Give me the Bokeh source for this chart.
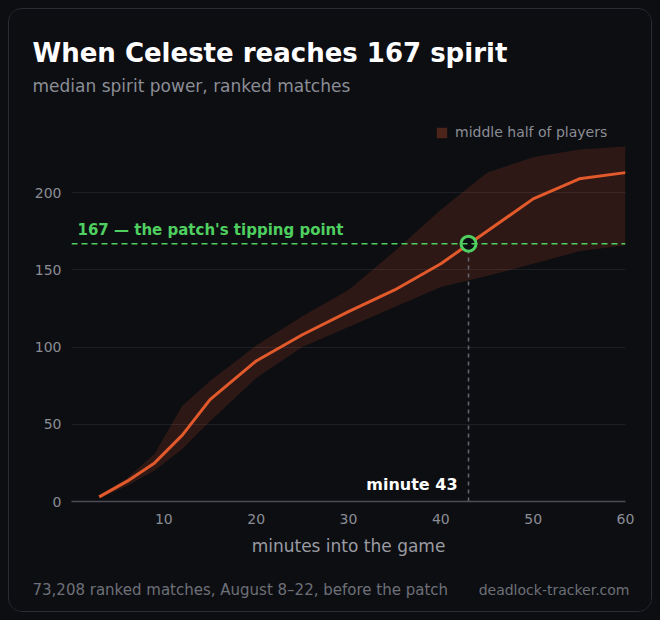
from bokeh.plotting import figure
from bokeh.models import Label, Span, Legend, LegendItem, FixedTicker
from bokeh.embed import file_html
from bokeh.resources import INLINE

# median spirit power by minute, plus the 25th-75th percentile band
minutes = [3, 6, 9, 12, 15, 20, 25, 30, 35, 40, 45, 50, 55, 60]
median = [3, 13, 25, 43, 66, 91, 108, 123, 137, 154, 175, 196, 209, 213]
q_low = [2, 10, 20, 34, 52, 80, 100, 113, 126, 139, 146, 154, 162, 166]
q_high = [4, 15, 31, 62, 78, 101, 120, 137, 162, 189, 213, 223, 228, 230]

threshold = 167
cross_minute = [43]
cross_value = [167]
cross_base = [0]

x_ticks = [10, 20, 30, 40, 50, 60]
y_ticks = [0, 50, 100, 150, 200]

BG = "#0d0e12"
ORANGE = "#e2592b"
GREEN = "#4fcf5f"
MUTED = "#8b8d95"
FOOT = "#6e7078"
FONT = "DejaVu Sans"

p = figure(width=644, height=604, x_range=(0, 60), y_range=(0, 250),
           output_backend="svg", toolbar_location=None,
           min_border_left=62, min_border_right=28,
           min_border_top=106, min_border_bottom=112)
p.background_fill_color = BG
p.border_fill_color = BG
p.outline_line_color = None
p.styles = {"border": "1px solid #2b2d34", "border-radius": "14px", "overflow": "hidden"}

# band + median
band = p.varea(x=minutes, y1=q_low, y2=q_high, fill_color=ORANGE, fill_alpha=0.15)
p.line(minutes, median, line_color=ORANGE, line_width=3)

# threshold line and crossing
p.add_layout(Span(location=threshold, dimension="width", line_color=GREEN,
                  line_width=1.5, line_dash="6 4"))
p.segment(x0=cross_minute, y0=cross_base, x1=cross_minute, y1=cross_value,
          line_color="#65676f", line_width=1.5, line_dash="4 4")
p.scatter(cross_minute, cross_value, size=15, fill_color=BG,
          line_color=GREEN, line_width=3)

p.add_layout(Label(x=0, y=threshold, x_offset=6, y_offset=14,
                   text="167 \u2014 the patch's tipping point",
                   text_font=FONT, text_font_size="15px", text_font_style="bold",
                   text_color=GREEN, text_baseline="middle"))
p.add_layout(Label(x=cross_minute[0], y=0, x_offset=-11, y_offset=17,
                   text="minute 43", text_font=FONT, text_font_size="16px",
                   text_font_style="bold", text_color="#ffffff",
                   text_align="right", text_baseline="middle"))

# legend swatch: a hidden copy of the band, drawn stronger
swatch = p.varea(x=minutes, y1=q_low, y2=q_high, fill_color=ORANGE,
                 fill_alpha=0.3, visible=False)
legend = Legend(items=[LegendItem(label="middle half of players", renderers=[swatch])],
                location=(364, 361), padding=0, margin=0, spacing=0,
                glyph_width=13, glyph_height=13, label_standoff=7,
                background_fill_alpha=0, border_line_color=None,
                inactive_fill_alpha=0,
                label_text_font=FONT, label_text_font_size="14px",
                label_text_color=MUTED)
p.add_layout(legend)

# axes
p.xaxis.ticker = FixedTicker(ticks=x_ticks)
p.yaxis.ticker = FixedTicker(ticks=y_ticks)
p.xgrid.grid_line_color = None
p.ygrid.grid_line_color = "#1e1f25"
p.ygrid.grid_line_width = 1

p.yaxis.axis_line_color = None
p.yaxis.major_tick_line_color = None
p.yaxis.minor_tick_line_color = None
p.yaxis.major_tick_out = 0
p.yaxis.major_label_standoff = 10

p.xaxis.axis_line_color = "#4b4c56"
p.xaxis.axis_line_width = 1.5
p.xaxis.major_tick_line_color = None
p.xaxis.minor_tick_line_color = None
p.xaxis.major_tick_out = 0
p.xaxis.major_label_standoff = 12
p.xaxis.axis_label = "minutes into the game"
p.xaxis.axis_label_standoff = 9
p.xaxis.axis_label_text_font = FONT
p.xaxis.axis_label_text_font_size = "17px"
p.xaxis.axis_label_text_font_style = "normal"
p.xaxis.axis_label_text_color = "#9a9ba3"

for ax in (p.xaxis, p.yaxis):
    ax.major_label_text_font = FONT
    ax.major_label_text_font_size = "14px"
    ax.major_label_text_color = MUTED

# title, subtitle, footer: placed in the side panels so they are not clipped
p.add_layout(Label(x=22, y=42, x_units="canvas", y_units="canvas",
                   text="When Celeste reaches 167 spirit", text_font=FONT,
                   text_font_size="26px", text_font_style="bold",
                   text_color="#ffffff", text_baseline="middle"), "above")
p.add_layout(Label(x=22, y=75, x_units="canvas", y_units="canvas",
                   text="median spirit power, ranked matches", text_font=FONT,
                   text_font_size="17px", text_color=MUTED, text_baseline="middle"), "above")
p.add_layout(Label(x=22, y=579, x_units="canvas", y_units="canvas",
                   text="73,208 ranked matches, August 8\u201322, before the patch",
                   text_font=FONT, text_font_size="15px", text_color=FOOT,
                   text_baseline="middle"), "below")
p.add_layout(Label(x=619, y=579, x_units="canvas", y_units="canvas",
                   text="deadlock-tracker.com", text_font=FONT, text_font_size="14px",
                   text_color=FOOT, text_align="right", text_baseline="middle"), "below")

html = file_html(p, INLINE)
html = html.replace("</head>", "<style>body{background:#0d0e12;margin:8px;}</style></head>", 1)
open("out.html", "w").write(html)
